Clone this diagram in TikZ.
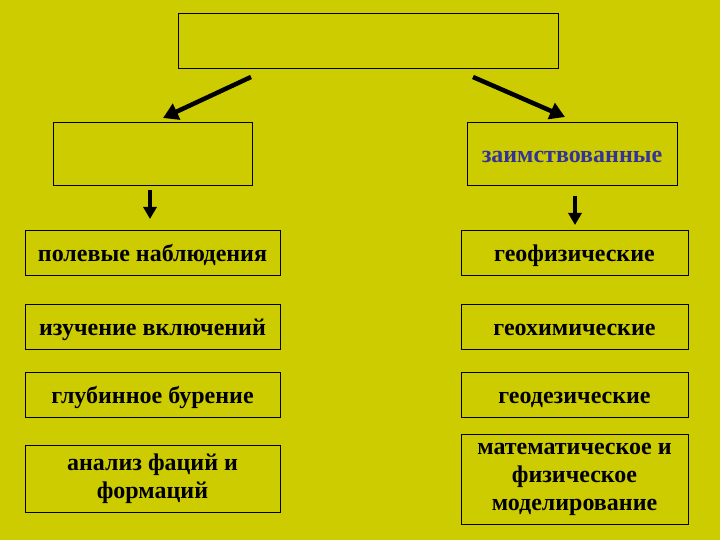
\documentclass[tikz,border=0pt]{standalone}
\usepackage{fontspec}
\setmainfont{Liberation Serif}
\usepackage{xcolor}
\usetikzlibrary{arrows.meta, positioning, calc}
\definecolor{slideYellow}{RGB}{204,204,0}
\definecolor{slideBlue}{RGB}{51,51,153}

\tikzset{
  box/.style={draw=black, line width=0.9pt, inner sep=0pt, align=center,
    font=\bfseries\fontsize{24}{28}\selectfont},
  oneline/.style={text height=22pt, text depth=4pt},
  leftbox/.style={box, minimum width=255, minimum height=45},
  rightbox/.style={box, minimum width=227, minimum height=45},
  bigarrow/.style={line width=4.5pt, -{Triangle[length=15pt, width=17pt]}},
  downarrow/.style={line width=4pt, -{Triangle[length=12pt, width=13pt]}}
}

\begin{document}
\begin{tikzpicture}[x=1pt, y=-1pt]
        \fill[slideYellow] (0,0) rectangle (720,540);
        \useasboundingbox (0,0) rectangle (720,540);
        % top and second level
        \node[box, minimum width=380, minimum height=55] (top) at (368,40.5) {};
        \node[box, minimum width=199, minimum height=63] (own) at (152.5,153.5) {};
        \node[box, oneline, minimum width=210, minimum height=63, text=slideBlue] (borrowed) at (572,153.5) {заимствованные};
        \coordinate (a1) at (251,77);
        \coordinate (a2) at (163,118);
        \coordinate (b1) at (473,77);
        \coordinate (b2) at (565,117);
        \draw[bigarrow] (a1) -- (a2);
        \draw[bigarrow] (b1) -- (b2);
        \coordinate (c1) at (150,190);
        \coordinate (c2) at (150,219);
        \coordinate (d1) at (575,196);
        \coordinate (d2) at (575,225);
        \draw[downarrow] (c1) -- (c2);
        \draw[downarrow] (d1) -- (d2);
        % left column
        \node[leftbox, oneline] (l1) at (152.5,252.5) {полевые наблюдения};
        \node[leftbox, oneline] (l2) at (152.5,326.5) {изучение включений};
        \node[leftbox, oneline] (l3) at (152.5,394.5) {глубинное бурение};
        \node[leftbox, minimum height=67] (l4) at (152.5,478.5) {анализ фаций и\\формаций};
        % right column
        \node[rightbox, oneline] (r1) at (574.5,252.5) {геофизические};
        \node[rightbox, oneline] (r2) at (574.5,326.5) {геохимические};
        \node[rightbox, oneline] (r3) at (574.5,394.5) {геодезические};
        \node[rightbox, minimum height=90] (r4) at (574.5,479) {математическое и\\физическое\\моделирование};
      \end{tikzpicture}
\end{document}
